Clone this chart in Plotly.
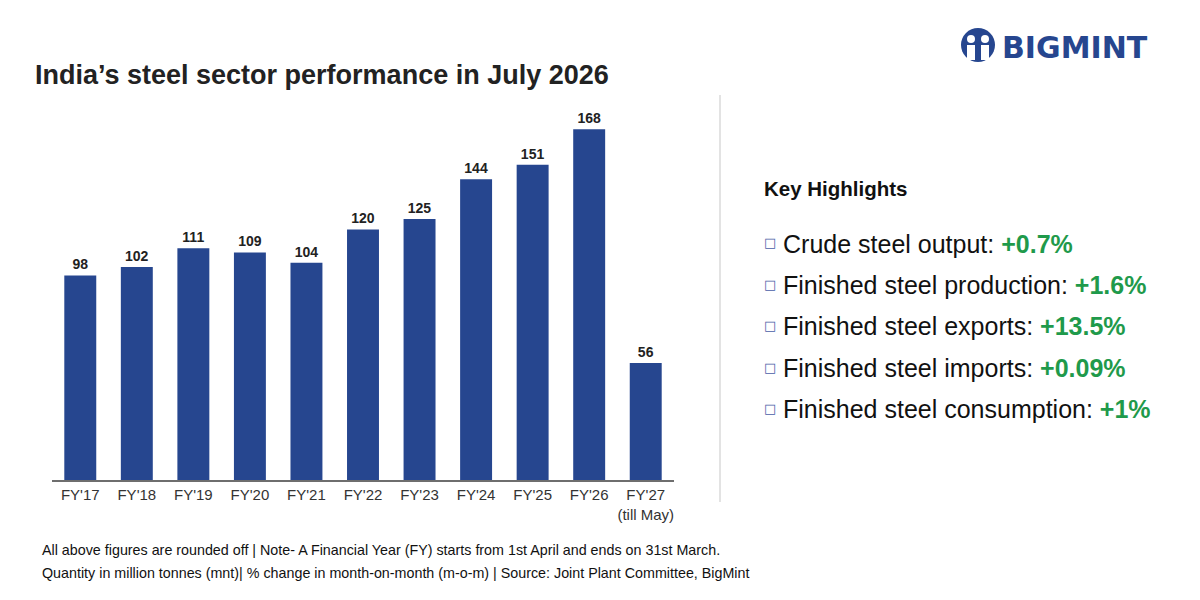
import plotly.graph_objects as go

# data
years = ["FY'17", "FY'18", "FY'19", "FY'20", "FY'21", "FY'22",
         "FY'23", "FY'24", "FY'25", "FY'26", "FY'27"]
tick_text = years[:-1] + ["FY'27<br>(till May)"]
output_mnt = [98, 102, 111, 109, 104, 120, 125, 144, 151, 168, 56]

highlight_names = ["Crude steel output", "Finished steel production",
                   "Finished steel exports", "Finished steel imports",
                   "Finished steel consumption"]
highlight_changes = ["+0.7%", "+1.6%", "+13.5%", "+0.09%", "+1%"]

notes = [
    "All above figures are rounded off | Note- A Financial Year (FY) starts from 1st April and ends on 31st March.",
    "Quantity in million tonnes (mnt)| % change in month-on-month (m-o-m) | Source: Joint Plant Committee, BigMint",
]

W, H = 1200, 600
OFF = 8  # page body margin shifts the figure
BLUE = "#26468f"
GREEN = "#1f9a4b"
FONT = "Liberation Sans, Arial, sans-serif"


def px_x(x):
    return (x - OFF) / W


def px_y(y):
    return 1 - (y - OFF) / H


fig = go.Figure()
fig.add_trace(go.Bar(
    x=years, y=output_mnt,
    marker=dict(color=BLUE, line=dict(width=0)),
    width=0.565,
    text=output_mnt, textposition="outside", cliponaxis=False,
    textfont=dict(family=FONT, size=14, color="#222222", weight="bold"),
    hoverinfo="x+y",
))

fig.update_layout(
    width=W, height=H,
    margin=dict(l=0, r=0, t=0, b=0),
    paper_bgcolor="white", plot_bgcolor="white",
    showlegend=False,
    font=dict(family=FONT),
    xaxis=dict(
        domain=[px_x(52), px_x(674)],
        tickmode="array", tickvals=years, ticktext=tick_text,
        tickfont=dict(size=15, color="#333333"),
        showline=True, linecolor="#6e6e6e", linewidth=2,
        ticks="", showgrid=False, fixedrange=True,
    ),
    yaxis=dict(
        domain=[px_y(480), px_y(100)],
        range=[0, 182], visible=False, showgrid=False, fixedrange=True,
    ),
)

ann = []
# title
ann.append(dict(text="<b>India’s steel sector performance in July 2026</b>",
                x=px_x(33), y=px_y(75), xanchor="left", yanchor="middle",
                font=dict(size=27, color="#222222")))

# logo
ann.append(dict(text="<b>BIGMINT</b>", x=px_x(1000), y=px_y(48),
                xanchor="left", yanchor="middle",
                font=dict(family="DejaVu Sans, sans-serif", size=30, color=BLUE)))

# key highlights
ann.append(dict(text="<b>Key Highlights</b>", x=px_x(762), y=px_y(188),
                xanchor="left", yanchor="middle",
                font=dict(size=20.5, color="#111111")))
row_y = [244, 285, 326, 368, 409]
for name, chg, yy in zip(highlight_names, highlight_changes, row_y):
    ann.append(dict(text="□", x=px_x(770), y=px_y(yy - 1),
                    xanchor="center", yanchor="middle",
                    font=dict(family="DejaVu Sans, sans-serif", size=13, color="#4a5ea8")))
    ann.append(dict(text=f"{name}: <b><span style='color:{GREEN}'>{chg}</span></b>",
                    x=px_x(781), y=px_y(yy), xanchor="left", yanchor="middle",
                    font=dict(size=25, color="#111111")))

# footnotes
for note, yy in zip(notes, [550, 573]):
    ann.append(dict(text=note, x=px_x(40), y=px_y(yy), xanchor="left", yanchor="middle",
                    font=dict(size=14.3, color="#111111")))

for a in ann:
    a.update(xref="paper", yref="paper", showarrow=False)
fig.update_layout(annotations=ann)

shapes = [
    # separator
    dict(type="line", xref="paper", yref="paper",
         x0=px_x(720), x1=px_x(720), y0=px_y(95), y1=px_y(502),
         line=dict(color="#e3e3e3", width=2)),
    # logo icon
    dict(type="circle", xref="paper", yref="paper",
         x0=px_x(961), x1=px_x(995), y0=px_y(62), y1=px_y(28),
         fillcolor=BLUE, line=dict(width=0)),
    dict(type="circle", xref="paper", yref="paper",
         x0=px_x(967), x1=px_x(975), y0=px_y(43), y1=px_y(35),
         fillcolor="white", line=dict(width=0)),
    dict(type="circle", xref="paper", yref="paper",
         x0=px_x(981), x1=px_x(989), y0=px_y(43), y1=px_y(35),
         fillcolor="white", line=dict(width=0)),
    dict(type="rect", xref="paper", yref="paper",
         x0=px_x(967), x1=px_x(975), y0=px_y(60), y1=px_y(45),
         fillcolor="white", line=dict(width=0)),
    dict(type="rect", xref="paper", yref="paper",
         x0=px_x(981), x1=px_x(989), y0=px_y(60), y1=px_y(45),
         fillcolor="white", line=dict(width=0)),
]
fig.update_layout(shapes=shapes)

fig.write_html("out.html")
